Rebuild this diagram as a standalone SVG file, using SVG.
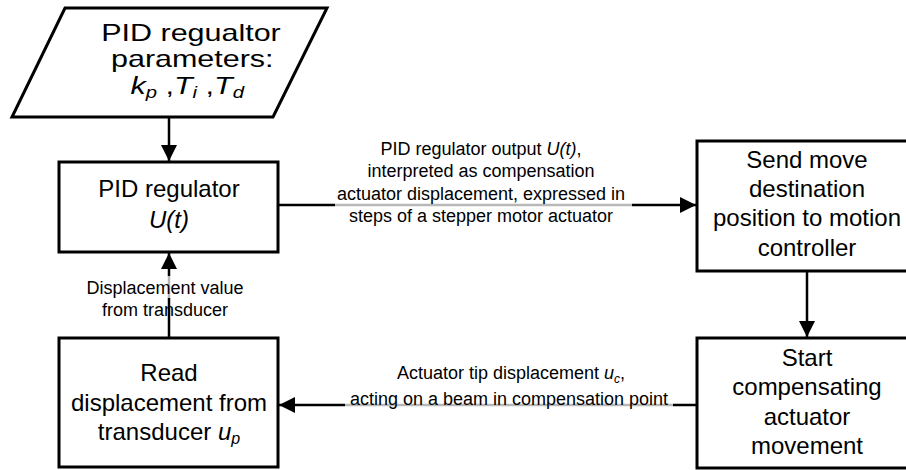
<svg xmlns="http://www.w3.org/2000/svg" width="906" height="470" viewBox="0 0 906 470">
  <defs>
    <style>
      .shape { fill: #ffffff; stroke: #000000; stroke-width: 3; }
      .wire { fill: none; stroke: #000000; stroke-width: 2.5; }
      .node-text { font-family: "Liberation Sans", Arial, sans-serif; font-size: 24px; fill: #000000; text-anchor: middle; }
      .label-text { font-family: "Liberation Sans", Arial, sans-serif; font-size: 18px; fill: #000000; text-anchor: middle; }
      .label-bg { fill: #ffffff; fill-opacity: 0.72; stroke: none; }
      .it { font-style: italic; }
    </style>
    <marker id="arrow" viewBox="0 0 16 16" refX="16" refY="8" markerWidth="16" markerHeight="16" markerUnits="userSpaceOnUse" orient="auto">
      <path d="M0,0 L16,8 L0,16 Z" fill="#000000"/>
    </marker>
  </defs>
  <rect width="906" height="470" fill="#ffffff"/>

  <!-- connectors -->
  <g id="connectors">
    <line class="wire" x1="169" y1="117" x2="169" y2="161" marker-end="url(#arrow)"/>
    <line class="wire" x1="278" y1="205" x2="696" y2="205" marker-end="url(#arrow)"/>
    <line class="wire" x1="807" y1="271" x2="807" y2="337" marker-end="url(#arrow)"/>
    <line class="wire" x1="697" y1="405" x2="279" y2="405" marker-end="url(#arrow)"/>
    <line class="wire" x1="169" y1="338" x2="169" y2="253" marker-end="url(#arrow)"/>

    <!-- connector labels -->
    <g id="label-output">
      <rect class="label-bg" x="335" y="139" width="297" height="89"/>
      <text class="label-text" x="481" y="155">PID regulator output <tspan class="it">U(t)</tspan>,</text>
      <text class="label-text" x="481" y="177">interpreted as compensation</text>
      <text class="label-text" x="481" y="200">actuator displacement, expressed in</text>
      <text class="label-text" x="481" y="222">steps of a stepper motor actuator</text>
    </g>
    <g id="label-tip">
      <rect class="label-bg" x="345" y="360" width="328" height="50"/>
      <text class="label-text" x="511" y="379">Actuator tip displacement <tspan class="it">u</tspan><tspan class="it" font-size="12" dy="4">c</tspan><tspan dy="-4">,</tspan></text>
      <text class="label-text" x="509" y="405">acting on a beam in compensation point</text>
    </g>
    <g id="label-transducer">
      <rect class="label-bg" x="84" y="276" width="160" height="22"/>
      <text class="label-text" x="165" y="294">Displacement value</text>
      <text class="label-text" x="165" y="316">from transducer</text>
    </g>
  </g>

  <!-- input parameters (text set slightly wide) -->
  <g id="node-params">
    <polygon class="shape" points="65,8 327,8 273,117 12,117"/>
    <g transform="translate(191,0) scale(1.27,1)">
      <text class="node-text" x="0" y="41">PID regualtor</text>
      <text class="node-text" x="1" y="67">parameters:</text>
      <text class="node-text" x="-3" y="94"><tspan class="it">k</tspan><tspan class="it" font-size="16" dy="4">p</tspan><tspan dy="-4"> ,</tspan><tspan class="it">T</tspan><tspan class="it" font-size="16" dy="4">i</tspan><tspan dy="-4"> ,</tspan><tspan class="it">T</tspan><tspan class="it" font-size="16" dy="4">d</tspan></text>
    </g>
  </g>

  <!-- regulator -->
  <g id="node-regulator">
    <rect class="shape" x="59" y="162" width="219" height="90"/>
    <text class="node-text" x="169" y="197">PID regulator</text>
    <text class="node-text it" x="169" y="228">U(t)</text>
  </g>

  <!-- motion controller command -->
  <g id="node-send">
    <rect class="shape" x="697" y="141" width="220" height="130"/>
    <text class="node-text" x="807" y="168">Send move</text>
    <text class="node-text" x="807" y="197">destination</text>
    <text class="node-text" x="807" y="226">position to motion</text>
    <text class="node-text" x="807" y="256">controller</text>
  </g>

  <!-- actuator movement -->
  <g id="node-start">
    <rect class="shape" x="697" y="338" width="220" height="130"/>
    <text class="node-text" x="807" y="366">Start</text>
    <text class="node-text" x="807" y="395">compensating</text>
    <text class="node-text" x="807" y="425">actuator</text>
    <text class="node-text" x="807" y="454">movement</text>
  </g>

  <!-- transducer reading -->
  <g id="node-read">
    <rect class="shape" x="59" y="338" width="219" height="129"/>
    <text class="node-text" x="169" y="381">Read</text>
    <text class="node-text" x="169" y="411">displacement from</text>
    <text class="node-text" x="169" y="440">transducer <tspan class="it">u</tspan><tspan class="it" font-size="16" dy="4">p</tspan></text>
  </g>
</svg>
